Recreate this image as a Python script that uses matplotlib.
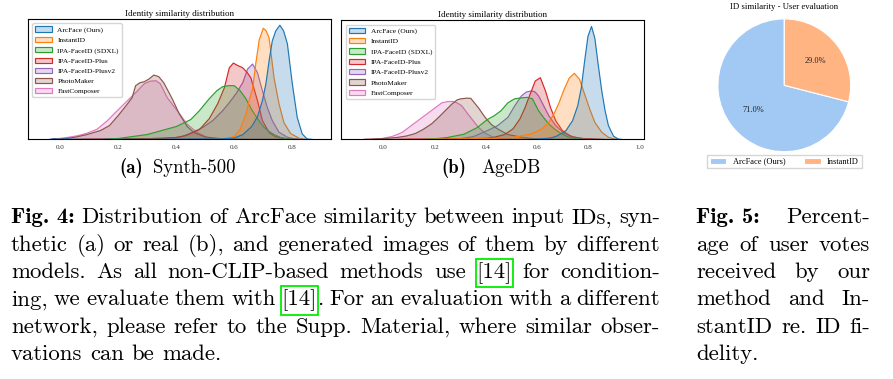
import matplotlib
matplotlib.use('Agg')
import matplotlib.pyplot as plt
import numpy as np
from matplotlib.colors import to_rgba
from matplotlib.patches import Patch, Rectangle

plt.rcParams['font.family'] = ['Liberation Serif', 'DejaVu Serif']

W, H = 893, 379  # ukuran gambar (px)

# nama model dan warna (urutan legend)
MODELS = ['ArcFace (Ours)', 'InstantID', 'IPA-FaceID (SDXL)', 'IPA-FaceID-Plus',
          'IPA-FaceID-Plusv2', 'PhotoMaker', 'FastComposer']
COLORS = ['#1f77b4', '#ff7f0e', '#2ca02c', '#d62728', '#9467bd', '#8c564b', '#e377c2']

# kurva densitas panel (a) Synth-500: (similarity, density)
syn_arcface = [(-0.035, 0), (-0.02, 0.08), (-0.005, 0.01), (0.01, 0.01), (0.025, 0.08), (0.04, 0.01),
               (0.3, 0.01), (0.55, 0.05), (0.6, 0.15), (0.63, 0.5), (0.66, 1.3), (0.68, 2.3), (0.697, 3.9),
               (0.709, 5.6), (0.72, 7.9), (0.731, 9.9), (0.743, 10.9), (0.757, 11.47), (0.77, 10.9),
               (0.783, 9.6), (0.8, 5.6), (0.817, 2.2), (0.834, 0.57), (0.851, 0.05), (0.87, 0)]
syn_instantid = [(0.5, 0), (0.55, 0.05), (0.58, 0.15), (0.6, 0.3), (0.62, 1.0), (0.64, 2.5), (0.651, 3.9),
                 (0.663, 5.1), (0.674, 7.6), (0.686, 10.0), (0.70, 11.17), (0.71, 10.9), (0.72, 10.2),
                 (0.737, 6.2), (0.754, 3.6), (0.771, 1.7), (0.794, 0.6), (0.823, 0.13), (0.85, 0)]
syn_sdxl = [(0.15, 0), (0.2, 0.1), (0.25, 0.3), (0.3, 0.5), (0.35, 0.9), (0.4, 1.3), (0.45, 2.0), (0.48, 2.9),
            (0.514, 4.1), (0.54, 4.9), (0.56, 5.3), (0.58, 5.4), (0.60, 5.4), (0.62, 4.9), (0.64, 4.1),
            (0.66, 3.0), (0.68, 2.1), (0.70, 1.3), (0.72, 0.8), (0.74, 0.45), (0.76, 0.2), (0.78, 0.08),
            (0.8, 0.02), (0.82, 0)]
syn_plus = [(0.05, 0), (0.1, 0.03), (0.2, 0.05), (0.3, 0.08), (0.4, 0.2), (0.434, 0.4), (0.48, 1.0),
            (0.514, 2.1), (0.543, 3.6), (0.566, 5.2), (0.583, 7.2), (0.597, 7.67), (0.61, 7.45), (0.629, 7.2),
            (0.645, 6.7), (0.657, 6.2), (0.68, 3.9), (0.697, 1.9), (0.72, 0.7), (0.74, 0.3), (0.766, 0.13),
            (0.8, 0.02), (0.82, 0)]
syn_plusv2 = [(0.25, 0), (0.3, 0.03), (0.35, 0.08), (0.4, 0.2), (0.423, 0.33), (0.457, 0.73), (0.491, 1.2),
              (0.526, 1.9), (0.56, 2.9), (0.583, 3.7), (0.606, 4.6), (0.629, 5.7), (0.646, 7.07), (0.663, 7.57),
              (0.68, 6.7), (0.697, 4.9), (0.714, 3.2), (0.731, 1.9), (0.754, 0.73), (0.783, 0.23), (0.81, 0.05),
              (0.83, 0)]
syn_photomaker = [(-0.03, 0), (0.0, 0.05), (0.047, 0.2), (0.093, 0.5), (0.139, 0.9), (0.17, 1.4), (0.2, 2.4),
                  (0.23, 3.5), (0.248, 4.2), (0.26, 5.4), (0.275, 5.7), (0.29, 5.8), (0.306, 6.07), (0.323, 6.47),
                  (0.34, 6.3), (0.357, 5.7), (0.386, 4.1), (0.41, 2.6), (0.438, 1.3), (0.461, 0.7), (0.5, 0.25),
                  (0.55, 0.1), (0.6, 0.03), (0.65, 0)]
syn_fastcomposer = [(-0.04, 0), (-0.01, 0.08), (0.024, 0.2), (0.06, 0.38), (0.09, 0.6), (0.127, 1.03),
                    (0.162, 1.87), (0.196, 2.87), (0.231, 3.87), (0.266, 4.87), (0.29, 5.6), (0.31, 5.85),
                    (0.33, 5.9), (0.345, 5.6), (0.369, 4.2), (0.404, 2.87), (0.438, 1.53), (0.472, 0.7),
                    (0.507, 0.2), (0.54, 0.05), (0.57, 0)]

# kurva densitas panel (b) AgeDB
age_arcface = [(0.55, 0), (0.6, 0.04), (0.65, 0.15), (0.671, 0.3), (0.70, 0.7), (0.711, 0.9), (0.737, 1.9),
               (0.757, 3.4), (0.771, 5.2), (0.784, 7.9), (0.797, 10.4), (0.811, 11.4), (0.824, 10.2),
               (0.837, 7.57), (0.851, 4.9), (0.864, 2.9), (0.877, 1.4), (0.897, 0.33), (0.917, 0.03), (0.93, 0)]
age_instantid = [(0.15, 0), (0.2, 0.03), (0.3, 0.06), (0.4, 0.1), (0.5, 0.22), (0.524, 0.3), (0.577, 0.57),
                 (0.617, 1.07), (0.644, 1.73), (0.664, 2.57), (0.684, 3.7), (0.704, 5.07), (0.724, 6.2),
                 (0.744, 6.67), (0.764, 6.07), (0.784, 4.57), (0.804, 3.07), (0.824, 1.73), (0.851, 0.73),
                 (0.877, 0.23), (0.904, 0.03), (0.92, 0)]
age_sdxl = [(0.15, 0), (0.2, 0.08), (0.247, 0.2), (0.312, 0.53), (0.364, 1.2), (0.403, 2.0), (0.431, 2.4),
            (0.457, 2.9), (0.484, 3.7), (0.51, 4.1), (0.537, 4.2), (0.56, 4.25), (0.58, 4.1), (0.604, 2.9),
            (0.624, 2.2), (0.644, 1.57), (0.664, 1.1), (0.684, 0.73), (0.704, 0.45), (0.724, 0.23),
            (0.75, 0.08), (0.78, 0)]
age_plus = [(0.05, 0), (0.1, 0.03), (0.2, 0.04), (0.3, 0.06), (0.4, 0.12), (0.431, 0.23), (0.471, 0.5),
            (0.504, 1.07), (0.531, 2.07), (0.551, 3.2), (0.571, 4.57), (0.591, 5.9), (0.611, 6.23),
            (0.631, 4.9), (0.651, 3.2), (0.671, 1.9), (0.697, 0.9), (0.731, 0.3), (0.777, 0.1), (0.81, 0.07),
            (0.84, 0.03), (0.86, 0)]
age_plusv2 = [(0.25, 0), (0.3, 0.1), (0.35, 0.3), (0.404, 0.9), (0.444, 1.4), (0.484, 2.23), (0.511, 3.4),
              (0.537, 4.4), (0.557, 4.8), (0.577, 4.9), (0.59, 4.8), (0.604, 4.4), (0.624, 3.4), (0.644, 2.4),
              (0.671, 1.4), (0.704, 0.63), (0.751, 0.17), (0.8, 0.03), (0.82, 0)]
age_photomaker = [(-0.08, 0), (-0.05, 0.03), (0.0, 0.1), (0.05, 0.2), (0.087, 0.35), (0.122, 0.6),
                  (0.152, 1.0), (0.187, 1.6), (0.213, 2.23), (0.239, 2.9), (0.265, 3.57), (0.286, 4.0),
                  (0.30, 4.1), (0.324, 4.17), (0.339, 4.15), (0.369, 3.2), (0.395, 2.23), (0.42, 1.5),
                  (0.444, 1.07), (0.484, 0.5), (0.537, 0.23), (0.58, 0.1), (0.62, 0.04), (0.66, 0)]
age_fastcomposer = [(-0.08, 0), (-0.05, 0.03), (-0.008, 0.1), (0.031, 0.3), (0.07, 0.7), (0.096, 1.2),
                    (0.122, 1.7), (0.148, 2.2), (0.174, 2.7), (0.2, 3.2), (0.226, 3.7), (0.25, 3.83),
                    (0.27, 3.83), (0.285, 3.7), (0.304, 3.4), (0.324, 2.7), (0.343, 2.07), (0.369, 1.23),
                    (0.395, 0.63), (0.428, 0.23), (0.46, 0.07), (0.5, 0)]

SYN_CURVES = [syn_arcface, syn_instantid, syn_sdxl, syn_plus, syn_plusv2, syn_photomaker, syn_fastcomposer]
AGE_CURVES = [age_arcface, age_instantid, age_sdxl, age_plus, age_plusv2, age_photomaker, age_fastcomposer]

SYN_TICKS = [0.0, 0.2, 0.4, 0.6, 0.8]
AGE_TICKS = [0.0, 0.2, 0.4, 0.6, 0.8, 1.0]

# data pie (user study)
PIE_LABELS = ['ArcFace (Ours)', 'InstantID']
PIE_SHARE = [71.0, 29.0]
PIE_COLORS = ['#a1c9f4', '#ffb482']

# teks caption
FIG4_LINES = [
    ('Fig. 4:', 'Distribution of ArcFace similarity between input IDs, syn-'),
    (None, 'thetic (a) or real (b), and generated images of them by different'),
    (None, 'models. As all non-CLIP-based methods use {14} for condition-'),
    (None, 'ing, we evaluate them with {14}. For an evaluation with a different'),
    (None, 'network, please refer to the Supp. Material, where similar obser-'),
    (None, 'vations can be made.'),
]
FIG5_LINES = [
    ('Fig. 5:', 'Percent-'),
    (None, 'age of user votes'),
    (None, 'received by our'),
    (None, 'method and In-'),
    (None, 'stantID re. ID fi-'),
    (None, 'delity.'),
]


def fx(x):
    return x / W


def fy(y):
    return 1 - y / H


fig = plt.figure(figsize=(W / 100, H / 100), dpi=100)


def kde_panel(rect, curves, xlim, ticks):
    ax = fig.add_axes(rect)
    # gambar terbalik biar ArcFace paling atas (kaya seaborn)
    for col, pts in reversed(list(zip(COLORS, curves))):
        x, y = np.array(pts).T
        ax.fill_between(x, y, facecolor=to_rgba(col, 0.25), edgecolor=col, linewidth=0.85)
    top = max(max(p[1] for p in c) for c in curves)
    ax.set_xlim(xlim)
    ax.set_ylim(0, top * 1.05)
    ax.set_yticks([])
    ax.set_xticks(ticks)
    ax.set_xticklabels([f'{t:.1f}' for t in ticks])
    ax.tick_params(axis='x', labelsize=5, length=0, pad=4, labelcolor='#333333')
    for s in ax.spines.values():
        s.set_linewidth(0.8)
    ax.set_title('Identity similarity distribution', fontsize=6.5, pad=2.5)
    handles = [Patch(facecolor=to_rgba(c, 0.25), edgecolor=c, linewidth=0.85) for c in COLORS]
    ax.legend(handles, MODELS, loc='upper left', fontsize=5.3, borderaxespad=0.6,
              labelspacing=0.55, handlelength=2.2, framealpha=0.8, edgecolor='0.8')
    return ax


ax_a = kde_panel([fx(28), fy(139), 303 / W, 120 / H], SYN_CURVES, (-0.109, 0.935), SYN_TICKS)
ax_b = kde_panel([fx(341.3), fy(139), 302.7 / W, 118.7 / H], AGE_CURVES, (-0.165, 1.018), AGE_TICKS)

# pie chart
ax_p = fig.add_axes([fx(701.3), fy(168.3), 166 / W, 166 / H])
wedges, _, autotexts = ax_p.pie(PIE_SHARE, colors=PIE_COLORS, autopct='%1.1f%%', startangle=90,
                                wedgeprops=dict(edgecolor='white', linewidth=0.8),
                                textprops=dict(fontsize=6, color='#222222'))
fig.text(fx(784.3), fy(7), 'ID similarity - User evaluation', ha='center', va='center', fontsize=6.3)
ax_p.legend(wedges, PIE_LABELS, loc='upper center', bbox_to_anchor=(fx(784.3), fy(155)),
            bbox_transform=fig.transFigure, ncol=2, fontsize=6, borderaxespad=0, borderpad=0.3,
            columnspacing=2.2, handlelength=2.0, fancybox=False, edgecolor='0.8')

# caption (Computer Modern), rata kiri-kanan
renderer = fig.canvas.get_renderer()
CAP_FS = 16.4
FAM = {'r': 'cmr10', 'b': 'cmb10', 'cite': 'cmr10'}


def seg_width(s, st, fs=CAP_FS):
    t = fig.text(0, 0, s, fontsize=fs, family=FAM[st])
    w = t.get_window_extent(renderer).width
    t.remove()
    return w


def split_word(word):
    if '{14}' not in word:
        return [(word, 'r')]
    pre, post = word.split('{14}')
    segs = []
    if pre:
        segs.append((pre, 'r'))
    segs.append(('[14]', 'cite'))
    if post:
        segs.append((post, 'r'))
    return segs


def set_paragraph(lines, x0, x1, y0, lead):
    space = 0.333 * CAP_FS * 100 / 72
    for i, (bold, text) in enumerate(lines):
        yb = y0 + i * lead
        tokens = [split_word(w) for w in text.split()]
        if bold:
            tokens.insert(0, [(bold, 'b')])
        widths = [[seg_width(s, st) for s, st in tok] for tok in tokens]
        total = sum(sum(w) for w in widths)
        last = i == len(lines) - 1
        gap = space if last or len(tokens) < 2 else (x1 - x0 - total) / (len(tokens) - 1)
        x = x0
        for tok, ws in zip(tokens, widths):
            for (s, st), w in zip(tok, ws):
                fig.text(fx(x), fy(yb), s, fontsize=CAP_FS, family=FAM[st], va='baseline', ha='left')
                if st == 'cite':
                    fig.add_artist(Rectangle((fx(x - 0.8), fy(yb + 9.5)), (w + 1.6) / W, 28.5 / H,
                                             transform=fig.transFigure, fill=False,
                                             edgecolor='#00ee00', linewidth=1.3))
                x += w
            x += gap


set_paragraph(FIG4_LINES, 11, 660, 223.3, 27.33)
set_paragraph(FIG5_LINES, 696, 870, 223.3, 27.33)

# sub-caption (a) dan (b)
SUB_FS = 13.5
fig.text(fx(119), fy(173.3), '(a)', fontsize=SUB_FS, family='cmb10', va='baseline')
fig.text(fx(153.3), fy(173.3), 'Synth-500', fontsize=SUB_FS, family='cmr10', va='baseline')
fig.text(fx(441), fy(173.3), '(b)', fontsize=SUB_FS, family='cmb10', va='baseline')
fig.text(fx(481.7), fy(173.3), 'AgeDB', fontsize=SUB_FS, family='cmr10', va='baseline')

fig.savefig('out.png', dpi=100)
